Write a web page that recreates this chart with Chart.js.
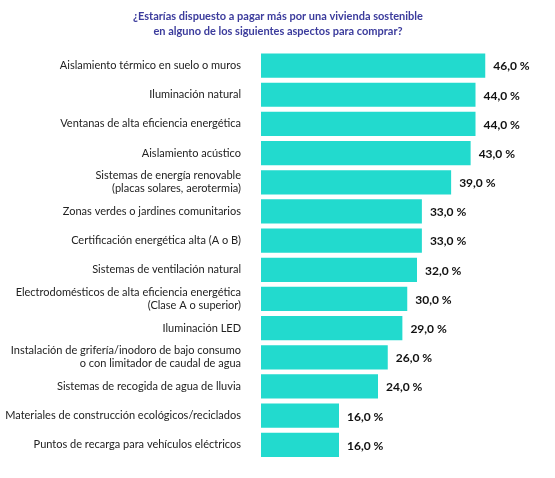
<!DOCTYPE html>
<html><head><meta charset="utf-8">
<script src="https://cdn.jsdelivr.net/npm/chart.js@4"></script>
<style>html,body{margin:0;padding:0;background:#fff;overflow:hidden}canvas{display:block}</style>
</head><body><canvas id="c" width="555" height="478"></canvas>
<script>
const categories = [
  ["Aislamiento térmico en suelo o muros"],
  ["Iluminación natural"],
  ["Ventanas de alta eficiencia energética"],
  ["Aislamiento acústico"],
  ["Sistemas de energía renovable","(placas solares, aerotermia)"],
  ["Zonas verdes o jardines comunitarios"],
  ["Certificación energética alta (A o B)"],
  ["Sistemas de ventilación natural"],
  ["Electrodomésticos de alta eficiencia energética","(Clase A o superior)"],
  ["Iluminación LED"],
  ["Instalación de grifería/inodoro de bajo consumo","o con limitador de caudal de agua"],
  ["Sistemas de recogida de agua de lluvia"],
  ["Materiales de construcción ecológicos/reciclados"],
  ["Puntos de recarga para vehículos eléctricos"]
];
const values = [46,44,44,43,39,33,33,32,30,29,26,24,16,16];
const titleLines = ["¿Estarías dispuesto a pagar más por una vivienda sostenible","en alguno de los siguientes aspectos para comprar?"];

const deco = {
  id:'deco',
  afterDatasetsDraw(chart){
    const ctx = chart.ctx;
    ctx.save();
    ctx.fillStyle = '#3b3b9c';
    ctx.font = 'bold 11px Lato';
    ctx.textAlign = 'center';
    ctx.textBaseline = 'middle';
    ctx.fillText(titleLines[0], 278, 16);
    ctx.fillText(titleLines[1], 278, 31);
    const meta = chart.getDatasetMeta(0);
    ctx.fillStyle = '#111';
    ctx.font = 'bold 12px Lato';
    ctx.textAlign = 'left';
    meta.data.forEach((b,i)=>{
      ctx.fillText(values[i].toFixed(1).replace('.',',')+' %', b.x+8, b.y+1);
    });
    ctx.restore();
  }
};

new Chart(document.getElementById('c'), {
  type:'bar',
  data:{labels:categories, datasets:[{data:values, backgroundColor:'#22dace', borderWidth:0, categoryPercentage:1, barPercentage:0.83}]},
  options:{
    indexAxis:'y', responsive:false, animation:false, devicePixelRatio:1,
    layout:{padding:{top:51,bottom:2,left:0,right:21}},
    plugins:{legend:{display:false}, tooltip:{enabled:false}},
    scales:{
      x:{min:0,max:56,display:false},
      y:{grid:{display:false}, border:{display:false},
         ticks:{color:'#222', font:{family:'Lato', size:11}, padding:12, autoSkip:false},
         afterFit(s){s.width=261;}}
    }
  },
  plugins:[deco]
});
</script></body></html>
